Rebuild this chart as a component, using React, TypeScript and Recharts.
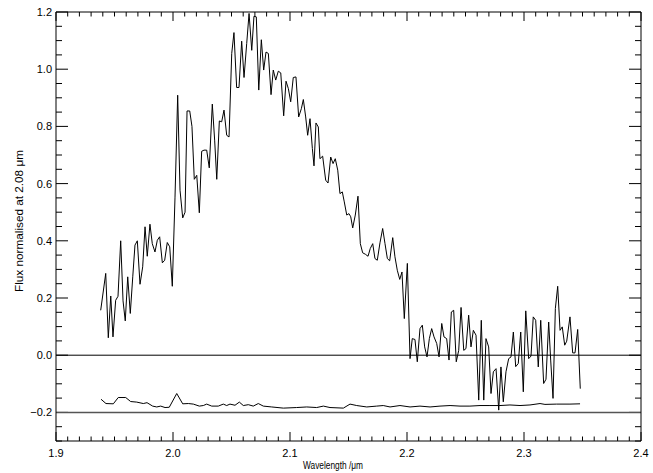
import {
  LineChart,
  Line,
  XAxis,
  YAxis,
  ReferenceLine,
} from "recharts";

// wavelength (µm) and normalised flux of the spectrum
const wave = [
  1.9382, 1.9425, 1.9447, 1.9468, 1.9487, 1.951, 1.953, 1.9553, 1.9573, 1.9592,
  1.9613, 1.9635, 1.9656, 1.9675, 1.9695, 1.9718, 1.9741, 1.9761, 1.978, 1.9803,
  1.9823, 1.9846, 1.9866, 1.9886, 1.9909, 1.9929, 1.9951, 1.9972, 1.9994, 2.0017,
  2.004, 2.006, 2.0083, 2.0103, 2.012, 2.0143, 2.0162, 2.0182, 2.0203, 2.0225,
  2.0245, 2.0265, 2.0288, 2.031, 2.0336, 2.0356, 2.0374, 2.0396, 2.0416, 2.0436,
  2.0459, 2.0479, 2.0502, 2.0521, 2.0544, 2.0564, 2.0587, 2.0607, 2.063, 2.065,
  2.0673, 2.0692, 2.0712, 2.0733, 2.0755, 2.0775, 2.0795, 2.0815, 2.0838, 2.0857,
  2.0878, 2.09, 2.0921, 2.0946, 2.0966, 2.0986, 2.1006, 2.1028, 2.1051, 2.1074,
  2.1097, 2.1114, 2.1134, 2.1151, 2.1171, 2.1191, 2.1205, 2.1222, 2.1242, 2.1256,
  2.1279, 2.1305, 2.1325, 2.1348, 2.1368, 2.1387, 2.1408, 2.1427, 2.1447, 2.1464,
  2.1485, 2.1504, 2.1519, 2.1536, 2.1558, 2.1581, 2.1601, 2.1621, 2.1644, 2.1667,
  2.1686, 2.1707, 2.1726, 2.1746, 2.1769, 2.1792, 2.1812, 2.1832, 2.1852, 2.1878,
  2.1897, 2.1917, 2.1938, 2.1957, 2.1977, 2.2003, 2.2026, 2.2045, 2.2068, 2.2088,
  2.2111, 2.2131, 2.2151, 2.2171, 2.2191, 2.2211, 2.2231, 2.2254, 2.2274, 2.2297,
  2.2316, 2.2339, 2.2359, 2.2379, 2.2399, 2.2421, 2.2442, 2.2462, 2.2485, 2.2504,
  2.2527, 2.2547, 2.2567, 2.259, 2.2613, 2.2635, 2.2656, 2.2675, 2.2698, 2.2718,
  2.2738, 2.2761, 2.2784, 2.2803, 2.2823, 2.2846, 2.2869, 2.2889, 2.2909, 2.2929,
  2.2951, 2.2972, 2.2994, 2.3015, 2.304, 2.306, 2.3079, 2.31, 2.3122, 2.3143,
  2.3168, 2.3188, 2.3211, 2.3228, 2.3248, 2.3268, 2.3288, 2.3308, 2.3327, 2.3348,
  2.3365, 2.3393, 2.3416, 2.3436, 2.3459, 2.3481,
];

const flux = [
  0.157, 0.286, 0.061, 0.207, 0.064, 0.192, 0.206, 0.4, 0.19, 0.12,
  0.274, 0.146, 0.274, 0.385, 0.4, 0.248, 0.309, 0.449, 0.346, 0.458,
  0.39, 0.361, 0.402, 0.414, 0.323, 0.332, 0.394, 0.379, 0.241, 0.55,
  0.909, 0.577, 0.48, 0.5, 0.854, 0.854, 0.8, 0.615, 0.629, 0.498,
  0.713, 0.717, 0.717, 0.655, 0.878, 0.752, 0.615, 0.819, 0.816, 0.857,
  0.769, 0.763, 1.055, 1.128, 0.936, 0.936, 1.098, 0.971, 1.09, 1.195,
  1.066, 1.185, 1.183, 0.927, 1.103, 0.997, 1.06, 1.055, 0.911, 0.997,
  0.962, 0.993, 0.987, 0.837, 0.958, 0.932, 0.886, 0.971, 0.973, 0.833,
  0.862, 0.894, 0.833, 0.769, 0.827, 0.723, 0.662, 0.812, 0.798, 0.687,
  0.696, 0.612, 0.602, 0.693, 0.67, 0.687, 0.647, 0.565, 0.571, 0.536,
  0.49, 0.495, 0.484, 0.445, 0.49, 0.556, 0.39, 0.358, 0.353, 0.346,
  0.373, 0.39, 0.338, 0.332, 0.393, 0.443, 0.39, 0.338, 0.33, 0.411,
  0.344, 0.297, 0.265, 0.291, 0.128, 0.321, -0.012, 0.058, 0.055, -0.023,
  0.093, 0.105, 0.029, -0.006, 0.058, 0.093, 0.064, 0.041, -0.006, 0.111,
  0.064, 0.058, -0.017, 0.151, 0.157, -0.023, 0.017, 0.167, 0.017, 0.023,
  0.14, 0.029, 0.087, 0.07, -0.157, 0.122, -0.157, 0.058, 0.029, -0.134,
  -0.058, -0.047, -0.192, -0.041, -0.163, -0.058, -0.012, -0.006, 0.081, -0.04,
  -0.029, 0.081, -0.128, 0.155, -0.012, -0.003, 0.134, 0.122, -0.041, 0.122,
  -0.099, -0.084, 0.116, -0.017, -0.151, 0.163, 0.241, 0.087, 0.099, 0.035,
  0.049, 0.134, 0.008, 0.008, 0.09, -0.117,
];

// error spectrum, offset to -0.2
const errWave = [
  1.9385, 1.9427, 1.949, 1.9532, 1.9596, 1.9638, 1.969, 1.9746, 1.9778, 1.9826,
  1.9861, 1.9895, 1.9932, 1.9968, 2.0032, 2.0083, 2.0131, 2.0174, 2.0225, 2.0259,
  2.0288, 2.0331, 2.0387, 2.043, 2.0459, 2.0487, 2.053, 2.0567, 2.0601, 2.0644,
  2.0686, 2.0729, 2.0772, 2.0844, 2.0943, 2.1057, 2.1143, 2.1228, 2.1285, 2.1342,
  2.1456, 2.1513, 2.157, 2.1656, 2.1741, 2.1797, 2.1855, 2.194, 2.2026, 2.2111,
  2.2197, 2.2282, 2.2368, 2.2453, 2.2538, 2.2624, 2.2709, 2.2795, 2.288, 2.2966,
  2.3051, 2.3137, 2.3179, 2.3279, 2.3393, 2.3479,
];

const errFlux = [
  -0.154, -0.169, -0.17, -0.148, -0.148, -0.162, -0.164, -0.169, -0.166, -0.178,
  -0.181, -0.178, -0.183, -0.182, -0.134, -0.17, -0.169, -0.171, -0.178, -0.176,
  -0.171, -0.178, -0.178, -0.171, -0.176, -0.171, -0.175, -0.164, -0.176, -0.173,
  -0.178, -0.169, -0.178, -0.181, -0.185, -0.183, -0.181, -0.183, -0.178, -0.183,
  -0.185, -0.171, -0.176, -0.181, -0.178, -0.176, -0.181, -0.176, -0.181, -0.178,
  -0.181, -0.178, -0.176, -0.178, -0.178, -0.176, -0.176, -0.176, -0.174, -0.176,
  -0.174, -0.169, -0.172, -0.171, -0.171, -0.17,
];

const xMajor = [1.9, 2.0, 2.1, 2.2, 2.3, 2.4];
const yMajor = [-0.2, 0.0, 0.2, 0.4, 0.6, 0.8, 1.0, 1.2];
const X_DOMAIN = [1.9, 2.4];
const Y_DOMAIN = [-0.3, 1.2];

const spectrum = wave.map((w, i) => ({ w, f: flux[i] }));
const errSpec = errWave.map((w, i) => ({ w, f: errFlux[i] }));

const r3 = (v: number) => Math.round(v * 1000) / 1000;

// minor tick positions between the labelled ones
function subdivide(majors: number[], n: number, lo: number) {
  const step = (majors[1] - majors[0]) / n;
  const out: number[] = [];
  for (let v = lo; v <= majors[majors.length - 1] + 1e-9; v += step) out.push(r3(v));
  return out;
}
const xTicks = subdivide(xMajor, 10, 1.9);
const yTicks = subdivide(yMajor, 4, -0.3);

const isMajor = (v: number, majors: number[]) => majors.some((m) => Math.abs(m - v) < 1e-6);
const fmt = (v: number) => (Math.abs(v) < 1e-9 ? "0.0" : v.toFixed(1).replace("-", "\u2212"));

const FONT = "Liberation Sans, Arial, sans-serif";
const INK = "#000";

// inward IDL-style tick lengths, in data units (plot box is 585 x 429 px)
const PLOT_W = 585;
const PLOT_H = 429;
const xTickLen = (px: number) => (px * (X_DOMAIN[1] - X_DOMAIN[0])) / PLOT_W;
const yTickLen = (px: number) => (px * (Y_DOMAIN[1] - Y_DOMAIN[0])) / PLOT_H;

const bottomLabel = (p: any) => {
  const { x, y, payload } = p;
  if (!isMajor(payload.value, xMajor)) return <g key={`b${payload.value}`} />;
  return (
    <text key={`b${payload.value}`} x={x} y={y + 16} textAnchor="middle" fontSize={11} fontFamily={FONT} fill={INK}>
      {payload.value.toFixed(1)}
    </text>
  );
};

const leftLabel = (p: any) => {
  const { x, y, payload } = p;
  if (!isMajor(payload.value, yMajor)) return <g key={`l${payload.value}`} />;
  return (
    <text key={`l${payload.value}`} x={x - 4} y={y + 4} textAnchor="end" fontSize={11} fontFamily={FONT} fill={INK}>
      {fmt(payload.value)}
    </text>
  );
};

const YTitle = () => (
  <text
    x={20}
    y={221}
    transform="rotate(-90 20 221)"
    textAnchor="middle"
    dominantBaseline="middle"
    fontSize={11}
    fontFamily={FONT}
    fill={INK}
    textLength={142}
    lengthAdjust="spacingAndGlyphs"
  >
    Flux normalised at 2.08 μm
  </text>
);

const XTitle = () => (
  <text
    x={333}
    y={469}
    textAnchor="middle"
    fontSize={10.5}
    fontFamily={FONT}
    fill={INK}
    textLength={60}
    lengthAdjust="spacingAndGlyphs"
  >
    Wavelength /μm
  </text>
);

const tickProps = { xAxisId: "bottom", yAxisId: "left", stroke: INK, ifOverflow: "visible" as const };

export default function App() {
  return (
    <div style={{ position: "absolute", left: 0, top: 0 }}>
      <LineChart width={653} height={473} margin={{ top: 0, right: 0, bottom: 0, left: 0 }}>
        <XAxis
          xAxisId="bottom"
          type="number"
          dataKey="w"
          domain={X_DOMAIN}
          ticks={xTicks}
          interval={0}
          allowDataOverflow
          height={32}
          tickSize={0}
          tickMargin={0}
          tickLine={false}
          axisLine={{ stroke: INK }}
          tick={bottomLabel}
          label={<XTitle />}
        />
        <XAxis
          xAxisId="top"
          orientation="top"
          type="number"
          dataKey="w"
          domain={X_DOMAIN}
          allowDataOverflow
          height={12}
          tick={false}
          tickLine={false}
          axisLine={{ stroke: INK }}
        />
        <YAxis
          yAxisId="left"
          type="number"
          domain={Y_DOMAIN}
          ticks={yTicks}
          interval={0}
          allowDataOverflow
          width={56}
          tickSize={0}
          tickMargin={0}
          tickLine={false}
          axisLine={{ stroke: INK }}
          tick={leftLabel}
          label={<YTitle />}
        />
        <YAxis
          yAxisId="right"
          orientation="right"
          type="number"
          domain={Y_DOMAIN}
          allowDataOverflow
          width={12}
          tick={false}
          tickLine={false}
          axisLine={{ stroke: INK }}
        />
        {xTicks.map((v) => {
          const len = xTickLen(0) + yTickLen(isMajor(v, xMajor) ? 9 : 4.5);
          return [
            <ReferenceLine
              key={`xb${v}`}
              {...tickProps}
              segment={[{ x: v, y: Y_DOMAIN[0] }, { x: v, y: Y_DOMAIN[0] + len }]}
            />,
            <ReferenceLine
              key={`xt${v}`}
              {...tickProps}
              segment={[{ x: v, y: Y_DOMAIN[1] }, { x: v, y: Y_DOMAIN[1] - len }]}
            />,
          ];
        })}
        {yTicks.map((v) => {
          const len = xTickLen(isMajor(v, yMajor) ? 12 : 6);
          return [
            <ReferenceLine
              key={`yl${v}`}
              {...tickProps}
              segment={[{ x: X_DOMAIN[0], y: v }, { x: X_DOMAIN[0] + len, y: v }]}
            />,
            <ReferenceLine
              key={`yr${v}`}
              {...tickProps}
              segment={[{ x: X_DOMAIN[1], y: v }, { x: X_DOMAIN[1] - len, y: v }]}
            />,
          ];
        })}
        <ReferenceLine xAxisId="bottom" yAxisId="left" y={0} stroke={INK} />
        <ReferenceLine xAxisId="bottom" yAxisId="left" y={-0.2} stroke="#555" strokeWidth={1.5} />
        <Line
          xAxisId="bottom"
          yAxisId="left"
          data={errSpec}
          dataKey="f"
          type="linear"
          stroke={INK}
          strokeWidth={1}
          dot={false}
          activeDot={false}
          isAnimationActive={false}
        />
        <Line
          xAxisId="bottom"
          yAxisId="left"
          data={spectrum}
          dataKey="f"
          type="linear"
          stroke={INK}
          strokeWidth={1}
          dot={false}
          activeDot={false}
          isAnimationActive={false}
        />
      </LineChart>
    </div>
  );
}
